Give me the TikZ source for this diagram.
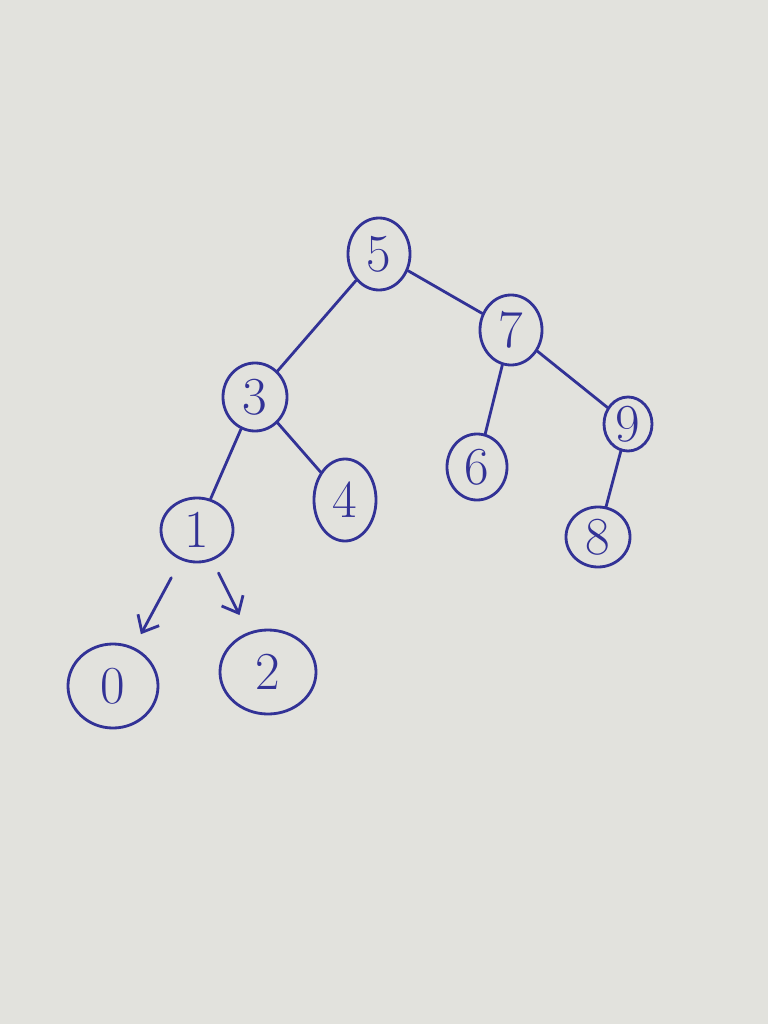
\documentclass[tikz,border=0pt]{standalone}
\usepackage{tikz}
\usetikzlibrary{arrows.meta,shapes.geometric}
\definecolor{paper}{RGB}{226,226,221}
\definecolor{ink}{RGB}{50,50,150}

\begin{document}
\begin{tikzpicture}[x=0.025cm,y=-0.025cm,>={Straight Barb[length=3.5mm,width=6mm]},
  keynode/.style={ellipse,draw=ink,text=ink,line width=2pt,inner sep=0pt,font=\fontsize{38}{44}\selectfont},
  branch/.style={draw=ink,line width=2pt,line cap=round}]
\fill[paper] (0,0) rectangle (768,1024);
\node[keynode,minimum width=1.55cm,minimum height=1.8cm] (k5) at (379,254) {5};
\node[keynode,minimum width=1.55cm,minimum height=1.75cm] (k7) at (511,330) {7};
\node[keynode,minimum width=1.6cm,minimum height=1.7cm] (k3) at (255,397) {3};
\node[keynode,minimum width=1.2cm,minimum height=1.35cm] (k9) at (628,424) {9};
\node[keynode,minimum width=1.5cm,minimum height=1.65cm] (k6) at (477,467) {6};
\node[keynode,minimum width=1.55cm,minimum height=2.05cm] (k4) at (345,500) {4};
\node[keynode,minimum width=1.8cm,minimum height=1.6cm] (k1) at (197,530) {1};
\node[keynode,minimum width=1.6cm,minimum height=1.5cm] (k8) at (598,537) {8};
\node[keynode,minimum width=2.25cm,minimum height=2.1cm] (k0) at (113,686) {0};
\node[keynode,minimum width=2.4cm,minimum height=2.1cm] (k2) at (268,672) {2};
\draw[branch] (k5) -- (k3);
\draw[branch] (k5) -- (k7);
\draw[branch] (k7) -- (k6);
\draw[branch] (k7) -- (k9);
\draw[branch] (k9) -- (k8);
\draw[branch] (k3) -- (k1);
\draw[branch] (k3) -- (k4);
\draw[branch,->,shorten <=0.5cm,shorten >=0.37cm] (k1) -- (k0);
\draw[branch,->,shorten <=0.35cm,shorten >=0.48cm] (k1) -- (k2);
\end{tikzpicture}
\end{document}
